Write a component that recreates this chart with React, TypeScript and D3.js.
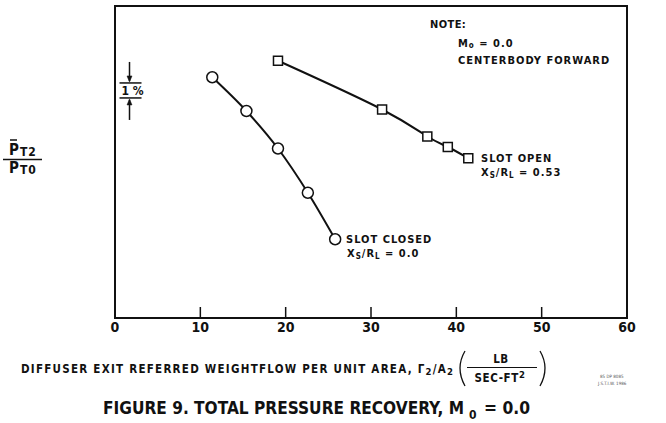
import React from 'react'
import * as d3 from 'd3'

// slot closed (circles) and slot open (squares), pressure recovery in % of PT0
const closedX = [11.4, 15.4, 19.1, 22.6, 25.8]
const closedY = [95.25, 93.0, 90.5, 87.55, 84.45]
const openX = [19.1, 31.3, 36.6, 39.0, 41.4]
const openY = [96.35, 93.1, 91.3, 90.6, 89.85]
const xTicks = [0, 10, 20, 30, 40, 50, 60]

const FONT = '"DejaVu Sans Condensed", "DejaVu Sans", sans-serif'

function App () {
  const width = 666
  const height = 423
  const left = 115
  const right = 627
  const top = 6
  const bottom = 318

  const x = d3.scaleLinear().domain([0, 60]).range([left, right])
  const y = d3.scaleLinear().domain([79.2, 100]).range([bottom, top])

  const closed = closedX.map((v, i) => [x(v), y(closedY[i])] as [number, number])
  const open = openX.map((v, i) => [x(v), y(openY[i])] as [number, number])

  const closedLine = d3.line().curve(d3.curveMonotoneX)(closed) || ''
  const openLine = d3.line().curve(d3.curveNatural)(open) || ''

  // 1% scale bar
  const barX = x(1.7)
  const barTop = y(94.87)
  const barBot = y(93.87)

  return (
    <svg width={width} height={height} style={{ position: 'absolute', left: 0, top: 0, background: '#fff' }}
      fontFamily={FONT} fontWeight='bold'>
      <rect x={left} y={top} width={right - left} height={bottom - top} fill='none' stroke='#111' strokeWidth={2} />

      {xTicks.slice(1, -1).map(t => (
        <line key={t} x1={x(t)} x2={x(t)} y1={bottom} y2={bottom - 11} stroke='#111' strokeWidth={1.5} />
      ))}
      {xTicks.map(t => (
        <text key={t} x={x(t)} y={332} textAnchor='middle' fontSize={14} fill='#111'>{t}</text>
      ))}

      {/* 1% indicator */}
      <g stroke='#111' strokeWidth={1.5} fill='#111'>
        <line x1={barX} x2={barX} y1={barTop - 21} y2={barTop - 2} />
        <path d={`M${barX - 2.5},${barTop - 7} L${barX + 2.5},${barTop - 7} L${barX},${barTop - 1} Z`} strokeWidth={0.5} />
        <line x1={barX - 10} x2={barX + 12} y1={barTop} y2={barTop} />
        <line x1={barX - 10} x2={barX + 12} y1={barBot} y2={barBot} />
        <line x1={barX} x2={barX} y1={barBot + 2} y2={barBot + 22} />
        <path d={`M${barX - 2.5},${barBot + 7} L${barX + 2.5},${barBot + 7} L${barX},${barBot + 1} Z`} strokeWidth={0.5} />
      </g>
      <text x={barX + 3} y={barBot - 2.5} textAnchor='middle' fontSize={12} fill='#111'>1 %</text>

      {/* y label */}
      <text x={9} y={155} fontSize={15} fill='#111' letterSpacing={1}>P<tspan fontSize={12} dy={1}>T2</tspan></text>
      <line x1={10} x2={17} y1={140} y2={140} stroke='#111' strokeWidth={1.5} />
      <line x1={3} x2={42} y1={159.5} y2={159.5} stroke='#111' strokeWidth={1.5} />
      <text x={9} y={173} fontSize={15} fill='#111' letterSpacing={1}>P<tspan fontSize={12} dy={1}>T0</tspan></text>

      {/* curves */}
      <path d={closedLine} fill='none' stroke='#111' strokeWidth={2} />
      <path d={openLine} fill='none' stroke='#111' strokeWidth={2} />
      {closed.map((p, i) => (
        <circle key={i} cx={p[0]} cy={p[1]} r={5.5} fill='#fff' stroke='#111' strokeWidth={1.5} />
      ))}
      {open.map((p, i) => (
        <rect key={i} x={p[0] - 4.5} y={p[1] - 4.5} width={9} height={9} fill='#fff' stroke='#111' strokeWidth={1.5} />
      ))}

      {/* note */}
      <g fontSize={11} fill='#111' letterSpacing={1}>
        <text x={430} y={28} letterSpacing={0.4}>NOTE:</text>
        <text x={458} y={46.5}>M<tspan fontSize={8} dy={1.5}>o</tspan><tspan dy={-1.5}> = 0.0</tspan></text>
        <text x={458} y={63.5}>CENTERBODY FORWARD</text>
      </g>

      {/* series labels */}
      <g fontSize={11} fill='#111' letterSpacing={1}>
        <text x={346} y={242.5}>SLOT CLOSED</text>
        <text x={347} y={256.5}>X<tspan fontSize={8} dy={2}>S</tspan><tspan dy={-2}>/R</tspan><tspan fontSize={8} dy={2}>L</tspan><tspan dy={-2}> = 0.0</tspan></text>
        <text x={481} y={162}>SLOT OPEN</text>
        <text x={481} y={176}>X<tspan fontSize={8} dy={2}>S</tspan><tspan dy={-2}>/R</tspan><tspan fontSize={8} dy={2}>L</tspan><tspan dy={-2}> = 0.53</tspan></text>
      </g>

      {/* x axis title */}
      <g fontSize={11.5} fill='#111'>
        <text x={21} y={373} textLength={432} lengthAdjust='spacing'>DIFFUSER EXIT REFERRED WEIGHTFLOW PER  UNIT AREA, Γ<tspan fontSize={9.5} dy={1.5}>2</tspan><tspan dy={-1.5}>/A</tspan><tspan fontSize={9.5} dy={1.5}>2</tspan></text>
        <text x={501} y={363} textAnchor='middle' letterSpacing={0.6}>LB</text>
        <line x1={467} x2={537} y1={367.5} y2={367.5} stroke='#111' strokeWidth={1.2} />
        <text x={500} y={382} textAnchor='middle' letterSpacing={0.6}>SEC-FT<tspan fontSize={9.5} dy={-4}>2</tspan></text>
      </g>
      <path d='M465,351 Q455,368 465,386' fill='none' stroke='#111' strokeWidth={1.3} />
      <path d='M540,351 Q550,368 540,386' fill='none' stroke='#111' strokeWidth={1.3} />

      <g fontSize={4.5} fill='#555' fontWeight='normal'>
        <text x={600} y={378}>85 DP 8085</text>
        <text x={598} y={385}>J.S.T.I.W. 1986</text>
      </g>

      {/* figure title */}
      <g fontSize={18} fill='#111'>
        <text x={103} y={414} textLength={361} lengthAdjust='spacingAndGlyphs'>FIGURE 9.  TOTAL PRESSURE RECOVERY, M</text>
        <text x={469} y={419} fontSize={12}>0</text>
        <text x={484} y={414} textLength={46} lengthAdjust='spacingAndGlyphs'>=  0.0</text>
      </g>
    </svg>
  )
}

export default App
